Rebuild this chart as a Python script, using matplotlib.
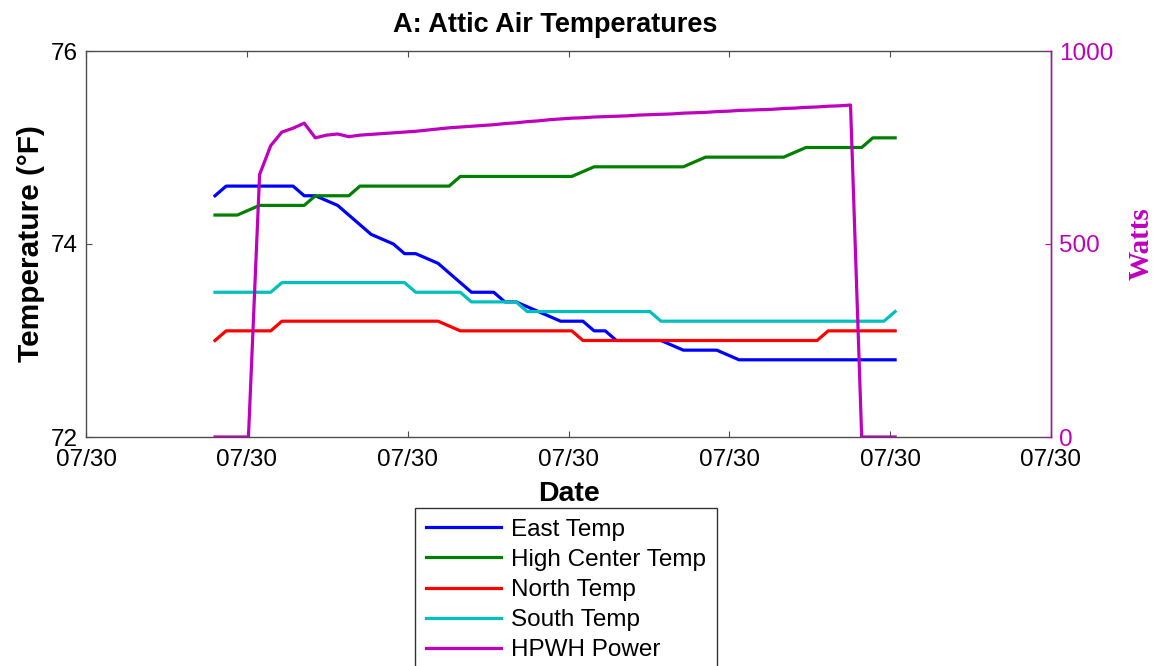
import numpy as np
import matplotlib
matplotlib.use("Agg")
import matplotlib.pyplot as plt

plt.rcParams['font.family'] = ['Liberation Sans', 'DejaVu Sans']

# sample times (minutes from first sample)
minutes = list(range(62))

east_temp = [74.5, 74.6, 74.6, 74.6, 74.6, 74.6, 74.6, 74.6, 74.5, 74.5,
             74.45, 74.4, 74.3, 74.2, 74.1, 74.05, 74.0, 73.9, 73.9, 73.85,
             73.8, 73.7, 73.6, 73.5, 73.5, 73.5, 73.4, 73.4, 73.35, 73.3,
             73.25, 73.2, 73.2, 73.2, 73.1, 73.1, 73.0, 73.0, 73.0, 73.0,
             73.0, 72.95, 72.9, 72.9, 72.9, 72.9, 72.85, 72.8, 72.8, 72.8,
             72.8, 72.8, 72.8, 72.8, 72.8, 72.8, 72.8, 72.8, 72.8, 72.8,
             72.8, 72.8]
high_center_temp = [74.3, 74.3, 74.3, 74.35, 74.4, 74.4, 74.4, 74.4, 74.4, 74.5,
                    74.5, 74.5, 74.5, 74.6, 74.6, 74.6, 74.6, 74.6, 74.6, 74.6,
                    74.6, 74.6, 74.7, 74.7, 74.7, 74.7, 74.7, 74.7, 74.7, 74.7,
                    74.7, 74.7, 74.7, 74.75, 74.8, 74.8, 74.8, 74.8, 74.8, 74.8,
                    74.8, 74.8, 74.8, 74.85, 74.9, 74.9, 74.9, 74.9, 74.9, 74.9,
                    74.9, 74.9, 74.95, 75.0, 75.0, 75.0, 75.0, 75.0, 75.0, 75.1,
                    75.1, 75.1]
north_temp = [73.0, 73.1, 73.1, 73.1, 73.1, 73.1, 73.2, 73.2, 73.2, 73.2,
              73.2, 73.2, 73.2, 73.2, 73.2, 73.2, 73.2, 73.2, 73.2, 73.2,
              73.2, 73.15, 73.1, 73.1, 73.1, 73.1, 73.1, 73.1, 73.1, 73.1,
              73.1, 73.1, 73.1, 73.0, 73.0, 73.0, 73.0, 73.0, 73.0, 73.0,
              73.0, 73.0, 73.0, 73.0, 73.0, 73.0, 73.0, 73.0, 73.0, 73.0,
              73.0, 73.0, 73.0, 73.0, 73.0, 73.1, 73.1, 73.1, 73.1, 73.1,
              73.1, 73.1]
south_temp = [73.5, 73.5, 73.5, 73.5, 73.5, 73.5, 73.6, 73.6, 73.6, 73.6,
              73.6, 73.6, 73.6, 73.6, 73.6, 73.6, 73.6, 73.6, 73.5, 73.5,
              73.5, 73.5, 73.5, 73.4, 73.4, 73.4, 73.4, 73.4, 73.3, 73.3,
              73.3, 73.3, 73.3, 73.3, 73.3, 73.3, 73.3, 73.3, 73.3, 73.3,
              73.2, 73.2, 73.2, 73.2, 73.2, 73.2, 73.2, 73.2, 73.2, 73.2,
              73.2, 73.2, 73.2, 73.2, 73.2, 73.2, 73.2, 73.2, 73.2, 73.2,
              73.2, 73.3]
hpwh_power = [0, 0, 0, 0, 680, 755, 790, 800, 813, 775,
              782, 785, 778, 782, 784, 786, 788, 790, 792, 795,
              798, 801, 803, 805, 807, 809, 812, 814, 817, 819,
              822, 824, 826, 827, 829, 830, 831, 832, 834, 835,
              836, 837, 839, 840, 841, 843, 844, 846, 847, 848,
              849, 851, 852, 854, 855, 857, 858, 860, 0, 0,
              0, 0]

series_labels = ['East Temp', 'High Center Temp', 'North Temp', 'South Temp', 'HPWH Power']
x_tick_label = '07/30'

C_BLUE = (0, 0, 1)
C_GREEN = (0, 0.5, 0)
C_RED = (1, 0, 0)
C_CYAN = (0, 0.75, 0.75)
C_MAG = (0.75, 0, 0.75)
SPINE = '#4d4d4d'
LW = 2.3

fig = plt.figure(figsize=(11.59, 6.66), dpi=100)
ax = fig.add_axes([86 / 1159, 1 - 437 / 666, (1051 - 86) / 1159, (437 - 51) / 666])

h1, = ax.plot(minutes, east_temp, color=C_BLUE, lw=LW)
h2, = ax.plot(minutes, high_center_temp, color=C_GREEN, lw=LW)
h3, = ax.plot(minutes, north_temp, color=C_RED, lw=LW)
h4, = ax.plot(minutes, south_temp, color=C_CYAN, lw=LW)

ax.set_ylim(72, 76)
ax.set_yticks([72, 74, 76])
xmin, xmax = -11.57, 74.98
ax.set_xlim(xmin, xmax)
xt = np.linspace(xmin, xmax, 7)
ax.set_xticks(xt)
ax.set_xticklabels([x_tick_label] * len(xt))

ax.tick_params(direction='in', length=4, width=0.8, colors='black', labelsize=17.5,
               top=True, right=False)
ax.tick_params(axis='y', pad=6)
ax.tick_params(axis='x', pad=9)
for s in ['left', 'top', 'bottom', 'right']:
    ax.spines[s].set_color(SPINE)
    ax.spines[s].set_linewidth(1.0)
ax.tick_params(axis='both', color=SPINE)

ax.set_ylabel('Temperature (°F)', fontsize=21.5, fontweight='bold', labelpad=4)
ax.set_xlabel('Date', fontsize=20.5, fontweight='bold', labelpad=7)
ax.set_title('A: Attic Air Temperatures', fontsize=19.5, fontweight='bold', pad=14)
ax.title.set_x((555 - 86) / (1051 - 86))

ax2 = ax.twinx()
h5, = ax2.plot(minutes, hpwh_power, color=C_MAG, lw=LW)
ax2.set_ylim(0, 1000)
ax2.set_yticks([0, 500, 1000])
ax2.set_xlim(xmin, xmax)
for s in ['left', 'top', 'bottom']:
    ax2.spines[s].set_visible(False)
ax2.spines['right'].set_color(C_MAG)
ax2.spines['right'].set_linewidth(1.0)
ax2.tick_params(axis='y', direction='in', length=4, width=0.8, colors=C_MAG,
                labelsize=17.5, pad=6)
ax2.set_ylabel('Watts', fontsize=21, fontweight='bold', color=C_MAG,
               family='Liberation Serif', labelpad=10)

leg = fig.legend([h1, h2, h3, h4, h5], series_labels, loc='upper left',
                 bbox_to_anchor=(415 / 1159, 1 - 508 / 666), bbox_transform=fig.transFigure,
                 fontsize=17.5, frameon=True, fancybox=False, edgecolor='black',
                 handlelength=3.1, handletextpad=0.42, labelspacing=0.33,
                 borderpad=0.45, borderaxespad=0)
leg.get_frame().set_linewidth(1.0)

fig.savefig('out.png', dpi=100)
